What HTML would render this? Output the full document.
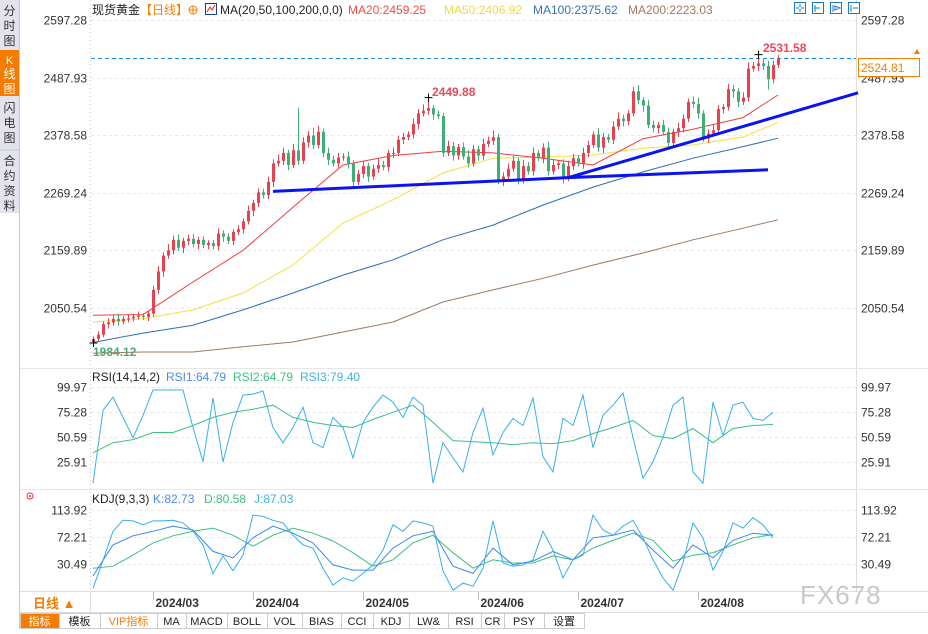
<!DOCTYPE html>
<html><head><meta charset="utf-8"><style>
html,body{margin:0;padding:0;background:#fff;}
body{width:928px;height:629px;overflow:hidden;position:relative;font-family:"Liberation Sans","Noto Sans CJK SC",sans-serif;}
svg text{font-family:"Liberation Sans","Noto Sans CJK SC",sans-serif;}
</style></head><body>
<svg id="chart" width="928" height="629" viewBox="0 0 928 629" xmlns="http://www.w3.org/2000/svg">
<g id="static">
  <rect x="0" y="0" width="19" height="213" fill="#e3e3eb"/>
  <line x1="19.5" y1="0" x2="19.5" y2="629" stroke="#c8c8d0"/>
  <rect x="0" y="50" width="19" height="46" fill="#f57c00"/>
  <line x1="0" y1="150" x2="19" y2="150" stroke="#c8c8d0"/>
  <g font-size="12" fill="#333" text-anchor="middle">
    <text x="9.5" y="15">分</text><text x="9.5" y="30">时</text><text x="9.5" y="45">图</text>
    <text x="9.5" y="64" fill="#fff" font-size="11">K</text><text x="9.5" y="78" fill="#fff">线</text><text x="9.5" y="93" fill="#fff">图</text>
    <text x="9.5" y="112">闪</text><text x="9.5" y="127">电</text><text x="9.5" y="142">图</text>
    <text x="9.5" y="165">合</text><text x="9.5" y="180">约</text><text x="9.5" y="195">资</text><text x="9.5" y="210">料</text>
  </g>
  <line x1="90.5" y1="0" x2="90.5" y2="592" stroke="#c8c8c8" stroke-dasharray="1,3"/>
  <line x1="856.5" y1="0" x2="856.5" y2="592" stroke="#ddd"/>
  <line x1="20" y1="368.5" x2="928" y2="368.5" stroke="#e6e6e6"/>
  <line x1="20" y1="489.5" x2="928" y2="489.5" stroke="#e6e6e6"/>
  <line x1="20" y1="591.5" x2="928" y2="591.5" stroke="#ddd"/>
  <line x1="20" y1="612.5" x2="928" y2="612.5" stroke="#ddd"/>
  <line x1="90.5" y1="592" x2="90.5" y2="612" stroke="#ddd"/>
  <text x="33" y="608" font-size="13" fill="#f57c00" font-weight="bold">日线 ▲</text>
  <text x="92" y="14" font-size="12" fill="#222">现货黄金</text>
  <text x="140" y="14" font-size="12" fill="#f57c00">【日线】</text>
  <circle cx="193" cy="10" r="4" fill="none" stroke="#f57c00"/>
  <line x1="189" y1="10" x2="197" y2="10" stroke="#f57c00"/><line x1="193" y1="6" x2="193" y2="14" stroke="#f57c00"/>
  <rect x="205.5" y="3.5" width="11" height="11" fill="#fff" stroke="#1a3d8f"/>
  <polyline points="207,12 210,7 212,10 215,5" fill="none" stroke="#d22" stroke-width="1"/>
  <text x="220" y="14" font-size="12" fill="#222">MA(20,50,100,200,0,0)</text>
  <text x="348" y="14" font-size="12" fill="#f04a4a">MA20:2459.25</text>
  <text x="444" y="14" font-size="12" fill="#f0d84a">MA50:2406.92</text>
  <text x="533" y="14" font-size="12" fill="#3a70b8">MA100:2375.62</text>
  <text x="628" y="14" font-size="12" fill="#a07860">MA200:2223.03</text>
  <g stroke="#1a78c8" fill="#fff">
    <rect x="794.5" y="2.5" width="11" height="11"/>
    <rect x="812.5" y="2.5" width="11" height="11"/>
    <rect x="830.5" y="2.5" width="11" height="11"/>
    <rect x="848.5" y="2.5" width="11" height="11"/>
    <path d="M800 4v3M800 9v3M796 8h3M801 8h3M815 5v7M815 8h5M833 5v7M835 6l5 2l-5 2zM851 5v7M853 8h5" fill="none"/>
  </g>
  <text x="93" y="356" font-size="12" fill="#4aae7a" font-weight="bold">1984.12</text>
  <text x="432" y="96" font-size="12" fill="#e84a5a" font-weight="bold">2449.88</text>
  <text x="763" y="52" font-size="12" fill="#e84a5a" font-weight="bold">2531.58</text>
  <text x="92" y="381" font-size="12" fill="#222">RSI(14,14,2)</text>
  <text x="166" y="381" font-size="12" fill="#4a8cf0">RSI1:64.79</text>
  <text x="233" y="381" font-size="12" fill="#3cc080">RSI2:64.79</text>
  <text x="300" y="381" font-size="12" fill="#3ab4e8">RSI3:79.40</text>
  <text x="92" y="503" font-size="12" fill="#222">KDJ(9,3,3)</text>
  <text x="153" y="503" font-size="12" fill="#4a8cf0">K:82.73</text>
  <text x="204" y="503" font-size="12" fill="#3cc080">D:80.58</text>
  <text x="254" y="503" font-size="12" fill="#3ab4e8">J:87.03</text>
  <g><circle cx="30" cy="496" r="3" fill="none" stroke="#e33"/><circle cx="30" cy="496" r="1" fill="#e33"/></g>
  <text x="800" y="604" font-size="26" fill="#c8c8c8" letter-spacing="1">FX678</text>
</g>
<g id="grid"></g><g id="ma"></g><g id="candles"></g><g id="trend"></g><g id="ind"></g><g id="axes"></g>
<g>
  <rect x="858.5" y="58.5" width="61" height="18" fill="#fff" stroke="#f57c00"/>
  <text x="861" y="72" font-size="12" fill="#f57c00">2524.81</text>
  <path d="M914 54l6 0l-3-5z" fill="#f57c00"/>
</g>
<g id="tabs"></g>
</svg>
<script>
const closes=[1992,2000,2020,2023,2030,2025,2030,2031,2034,2036,2034,2040,2085,2120,2150,2160,2180,2165,2178,2182,2172,2180,2170,2174,2168,2192,2186,2178,2195,2200,2215,2235,2250,2270,2265,2290,2325,2330,2345,2322,2350,2330,2365,2378,2360,2385,2345,2332,2325,2336,2338,2325,2290,2305,2320,2300,2315,2322,2318,2345,2345,2370,2375,2380,2400,2420,2425,2430,2418,2415,2345,2358,2340,2356,2338,2325,2352,2340,2362,2368,2375,2292,2300,2315,2330,2295,2320,2310,2345,2335,2355,2310,2322,2325,2297,2320,2335,2325,2345,2360,2380,2355,2375,2370,2395,2410,2405,2420,2462,2445,2435,2398,2392,2398,2385,2364,2385,2392,2410,2442,2438,2420,2372,2382,2388,2428,2432,2466,2462,2442,2450,2505,2510,2515,2510,2485,2512,2525];
const firstOpen=1986;
const wickUp=[5,6,5,8,6,10,5,7,6,8,5,6,8,10,6,12,8,10,6,8,9,6,7,5,6,10,6,7,5,8,6,10,6,8,7,10,8,12,10,6,12,81,10,8,15,12,6,10,8,9,6,10,6,8,10,6,8,12,8,6,10,7,8,6,10,8,12,20,6,8,6,10,8,6,9,12,8,6,10,8,12,6,8,10,9,6,12,8,10,6,8,12,10,6,8,10,8,6,10,8,6,12,8,6,10,12,8,6,8,12,6,10,8,6,10,8,6,10,8,6,10,12,6,8,10,8,6,10,8,6,10,12,8,16.5,8,10,8,6];
const wickDn=[2,6,5,8,6,8,5,7,6,5,6,8,6,8,10,6,8,6,10,8,6,10,6,8,6,8,10,6,8,6,8,6,10,8,6,8,10,6,8,10,6,8,6,10,8,6,8,10,6,8,6,10,8,6,8,10,6,8,6,8,10,6,8,6,8,10,6,8,10,6,8,6,10,8,6,8,6,10,8,6,8,6,10,8,6,10,8,6,8,6,10,8,6,8,10,6,8,6,10,8,6,8,10,6,8,6,10,8,6,8,12,6,8,10,6,8,6,10,8,6,8,10,6,8,6,10,8,6,12,10,6,8,6,10,8,20,8,6];
const maIdx=[0,10,20,30,40,50,60,70,80,90,100,110,120,130,137];
const ma20=[2037,2038,2100,2160,2242,2322,2340,2348,2345,2335,2322,2372,2390,2412,2455];
const ma50=[2024,2030,2047,2079,2132,2212,2256,2307,2335,2337,2341,2354,2360,2375,2403];
const ma100=[1985,2003,2018,2047,2079,2113,2142,2180,2208,2246,2280,2309,2335,2357,2373];
const ma200=[1965,1967,1967,1977,1986,2005,2024,2062,2085,2107,2132,2155,2180,2202,2218];
const priceTicks=[2597.28,2487.93,2378.58,2269.24,2159.89,2050.54];
const rsiTicks=[99.97,75.28,50.59,25.91];
const kdjTicks=[113.92,72.21,30.49];
const rsi1=[5,77,90,70,50,72,97,97,97,97,60,26,89,26,65,92,93,96,60,45,60,80,45,40,70,60,30,65,80,92,85,70,90,82,5,45,30,16,55,79,33,55,69,62,89,31,16,69,62,92,40,72,82,94,50,10,26,50,82,90,16,5,85,52,82,85,69,67,75];
const rsi2=[35,45,48,55,55,62,70,75,78,82,70,65,62,60,68,75,82,65,47,46,45,43,45,44,47,54,60,67,52,49,59,45,59,62,63];
const kdjJ=[-7,36,81,98,97,91,97,97,98,94,81,60,16,43,20,44,106,104,98,94,75,60,55,24,-2,9,4,16,29,52,91,81,97,94,89,20,-10,1,-4,24,97,32,27,29,37,81,52,9,37,44,106,83,75,89,98,71,37,9,-10,32,94,71,21,50,94,86,102,91,71];
const kdjK=[12,60,74,81,89,83,50,40,71,89,78,63,29,21,21,55,74,81,27,16,55,29,35,50,37,71,75,83,52,24,60,40,67,78,75];
const kdjD=[24,27,44,63,74,81,86,75,58,75,86,78,66,48,27,37,63,75,48,24,37,32,32,43,37,55,67,78,67,35,44,48,60,71,76];
const dateLabels=["2024/03","2024/04","2024/05","2024/06","2024/07","2024/08"];
const dateIdx=[12,32,54,77,97,121];
const tabLabels=["指标","模板","VIP指标","MA","MACD","BOLL","VOL","BIAS","CCI","KDJ","LW&","RSI","CR","PSY","设置"];
const tabEdges=[20,59,100,157,186,227,267,302,341,373,409,448,481,504,544,584];

const NS="http://www.w3.org/2000/svg";
const X0=93,STEP=5;
const xAt=i=>X0+i*STEP;
const yP=p=>20+(2597.28-p)*0.5268;
const yR=v=>387+(99.97-v)*1.0127;
const yK=v=>510+(113.92-v)*0.647;
function mk(tag,attrs,parent){const e=document.createElementNS(NS,tag);for(const k in attrs)e.setAttribute(k,attrs[k]);document.getElementById(parent).appendChild(e);return e;}

priceTicks.forEach(p=>{const y=Math.round(yP(p))+0.5;
  const g=mk('line',{x1:91,y1:y,x2:856,y2:y,stroke:'#e8e8e8','stroke-dasharray':'3,3'},'grid');
  
  
  const t1=mk('text',{x:87,y:y+4,'font-size':12,fill:'#333','text-anchor':'end'},'axes');t1.textContent=p.toFixed(2);
  
  
  const t2=mk('text',{x:861,y:y+4,'font-size':12,fill:'#333'},'axes');t2.textContent=p.toFixed(2);
  
  
});
rsiTicks.forEach(v=>{const y=Math.round(yR(v))+0.5;
  const g=mk('line',{x1:91,y1:y,x2:856,y2:y,stroke:'#e8e8e8','stroke-dasharray':'3,3'},'grid');
  
  
  const t1=mk('text',{x:87,y:y+4,'font-size':12,fill:'#333','text-anchor':'end'},'axes');t1.textContent=v.toFixed(2);
  
  
  const t2=mk('text',{x:861,y:y+4,'font-size':12,fill:'#333'},'axes');t2.textContent=v.toFixed(2);
  
  
});
kdjTicks.forEach(v=>{const y=Math.round(yK(v))+0.5;
  const g=mk('line',{x1:91,y1:y,x2:856,y2:y,stroke:'#e8e8e8','stroke-dasharray':'3,3'},'grid');
  
  
  const t1=mk('text',{x:87,y:y+4,'font-size':12,fill:'#333','text-anchor':'end'},'axes');t1.textContent=v.toFixed(2);
  
  
  const t2=mk('text',{x:861,y:y+4,'font-size':12,fill:'#333'},'axes');t2.textContent=v.toFixed(2);
  
  
});
const lp=mk('line',{x1:91,y1:Math.round(yP(2524.81))+0.5,x2:856,y2:Math.round(yP(2524.81))+0.5,stroke:'#1e88e5','stroke-dasharray':'4,3'},'grid');


dateLabels.forEach((d,k)=>{const x=Math.round(xAt(dateIdx[k]))+0.5;
  const l=mk('line',{x1:x,y1:592,x2:x,y2:600,stroke:'#bbb'},'axes');
  
  
  const t=mk('text',{x:x+2,y:607,'font-size':12,fill:'#333','font-weight':'bold'},'axes');t.textContent=d;
  
  
});
function maLine(arr,color,name){const pts=arr.map((v,k)=>xAt(maIdx[k])+','+yP(v).toFixed(1)).join(' ');
  const e=mk('polyline',{points:pts,fill:'none',stroke:color,'stroke-width':1},'ma');
  
  }
maLine(ma200,'#a07860','ma200-line');maLine(ma100,'#2a6eb8','ma100-line');maLine(ma50,'#f5e040','ma50-line');maLine(ma20,'#f03c3c','ma20-line');
closes.forEach((c,i)=>{const o=i?closes[i-1]:firstOpen;const up=c>=o;const col=up?'#e8414f':'#3faf74';
  const x=Math.round(xAt(i));const hi=Math.max(o,c)+wickUp[i],lo=Math.min(o,c)-wickDn[i];
  const w=mk('line',{x1:x+0.5,y1:yP(hi),x2:x+0.5,y2:yP(lo),stroke:col},'candles');
  
  
  const yt=yP(Math.max(o,c)),yb=yP(Math.min(o,c));
  const b=mk('rect',{x:x-1,y:yt,width:3,height:Math.max(1,yb-yt),fill:col},'candles');
  
  
});
[[0,1984.12],[67,2449.88],[133,2531.58]].forEach(m=>{const x=xAt(m[0])+0.5,y=yP(m[1]);
  const e=mk('path',{d:`M${x-4} ${y}h8M${x} ${y-4}v8`,stroke:'#000',fill:'none'},'candles');
  
  });
const trendLines=[[36,2272,95,2298],[95,2298,153,2459],[95,2298,135,2313]];
trendLines.forEach(t=>{const e=mk('line',{x1:xAt(t[0]),y1:yP(t[1]),x2:xAt(t[2]),y2:yP(t[3]),stroke:'#0a14f0','stroke-width':3},'trend');
  
  });
function ind(arr,step,yf,color,name){const pts=arr.map((v,k)=>(X0+k*step)+','+yf(v).toFixed(1)).join(' ');
  const e=mk('polyline',{points:pts,fill:'none',stroke:color,'stroke-width':1},'ind');
  
  }
ind(rsi2,20,yR,'#3cc080','rsi2-line');ind(rsi1,10,yR,'#36b0e8','rsi1-line');
ind(kdjD,20,yK,'#3cc080','kdj-d-line');ind(kdjK,20,yK,'#3a86f0','kdj-k-line');ind(kdjJ,10,yK,'#36b0e8','kdj-j-line');
tabLabels.forEach((t,k)=>{const x0=tabEdges[k],x1=tabEdges[k+1];
  const r=mk('rect',{x:x0+0.5,y:613.5,width:x1-x0,height:15,fill:k===0?'#f57c00':'#fff',stroke:'#ccc'},'tabs');
  
  
  const tx=mk('text',{x:(x0+x1)/2,y:625,'font-size':11,'text-anchor':'middle',fill:k===0?'#fff':(k===2?'#f57c00':'#222')},'tabs');tx.textContent=t;
  
  
});
</script>
</body></html>
